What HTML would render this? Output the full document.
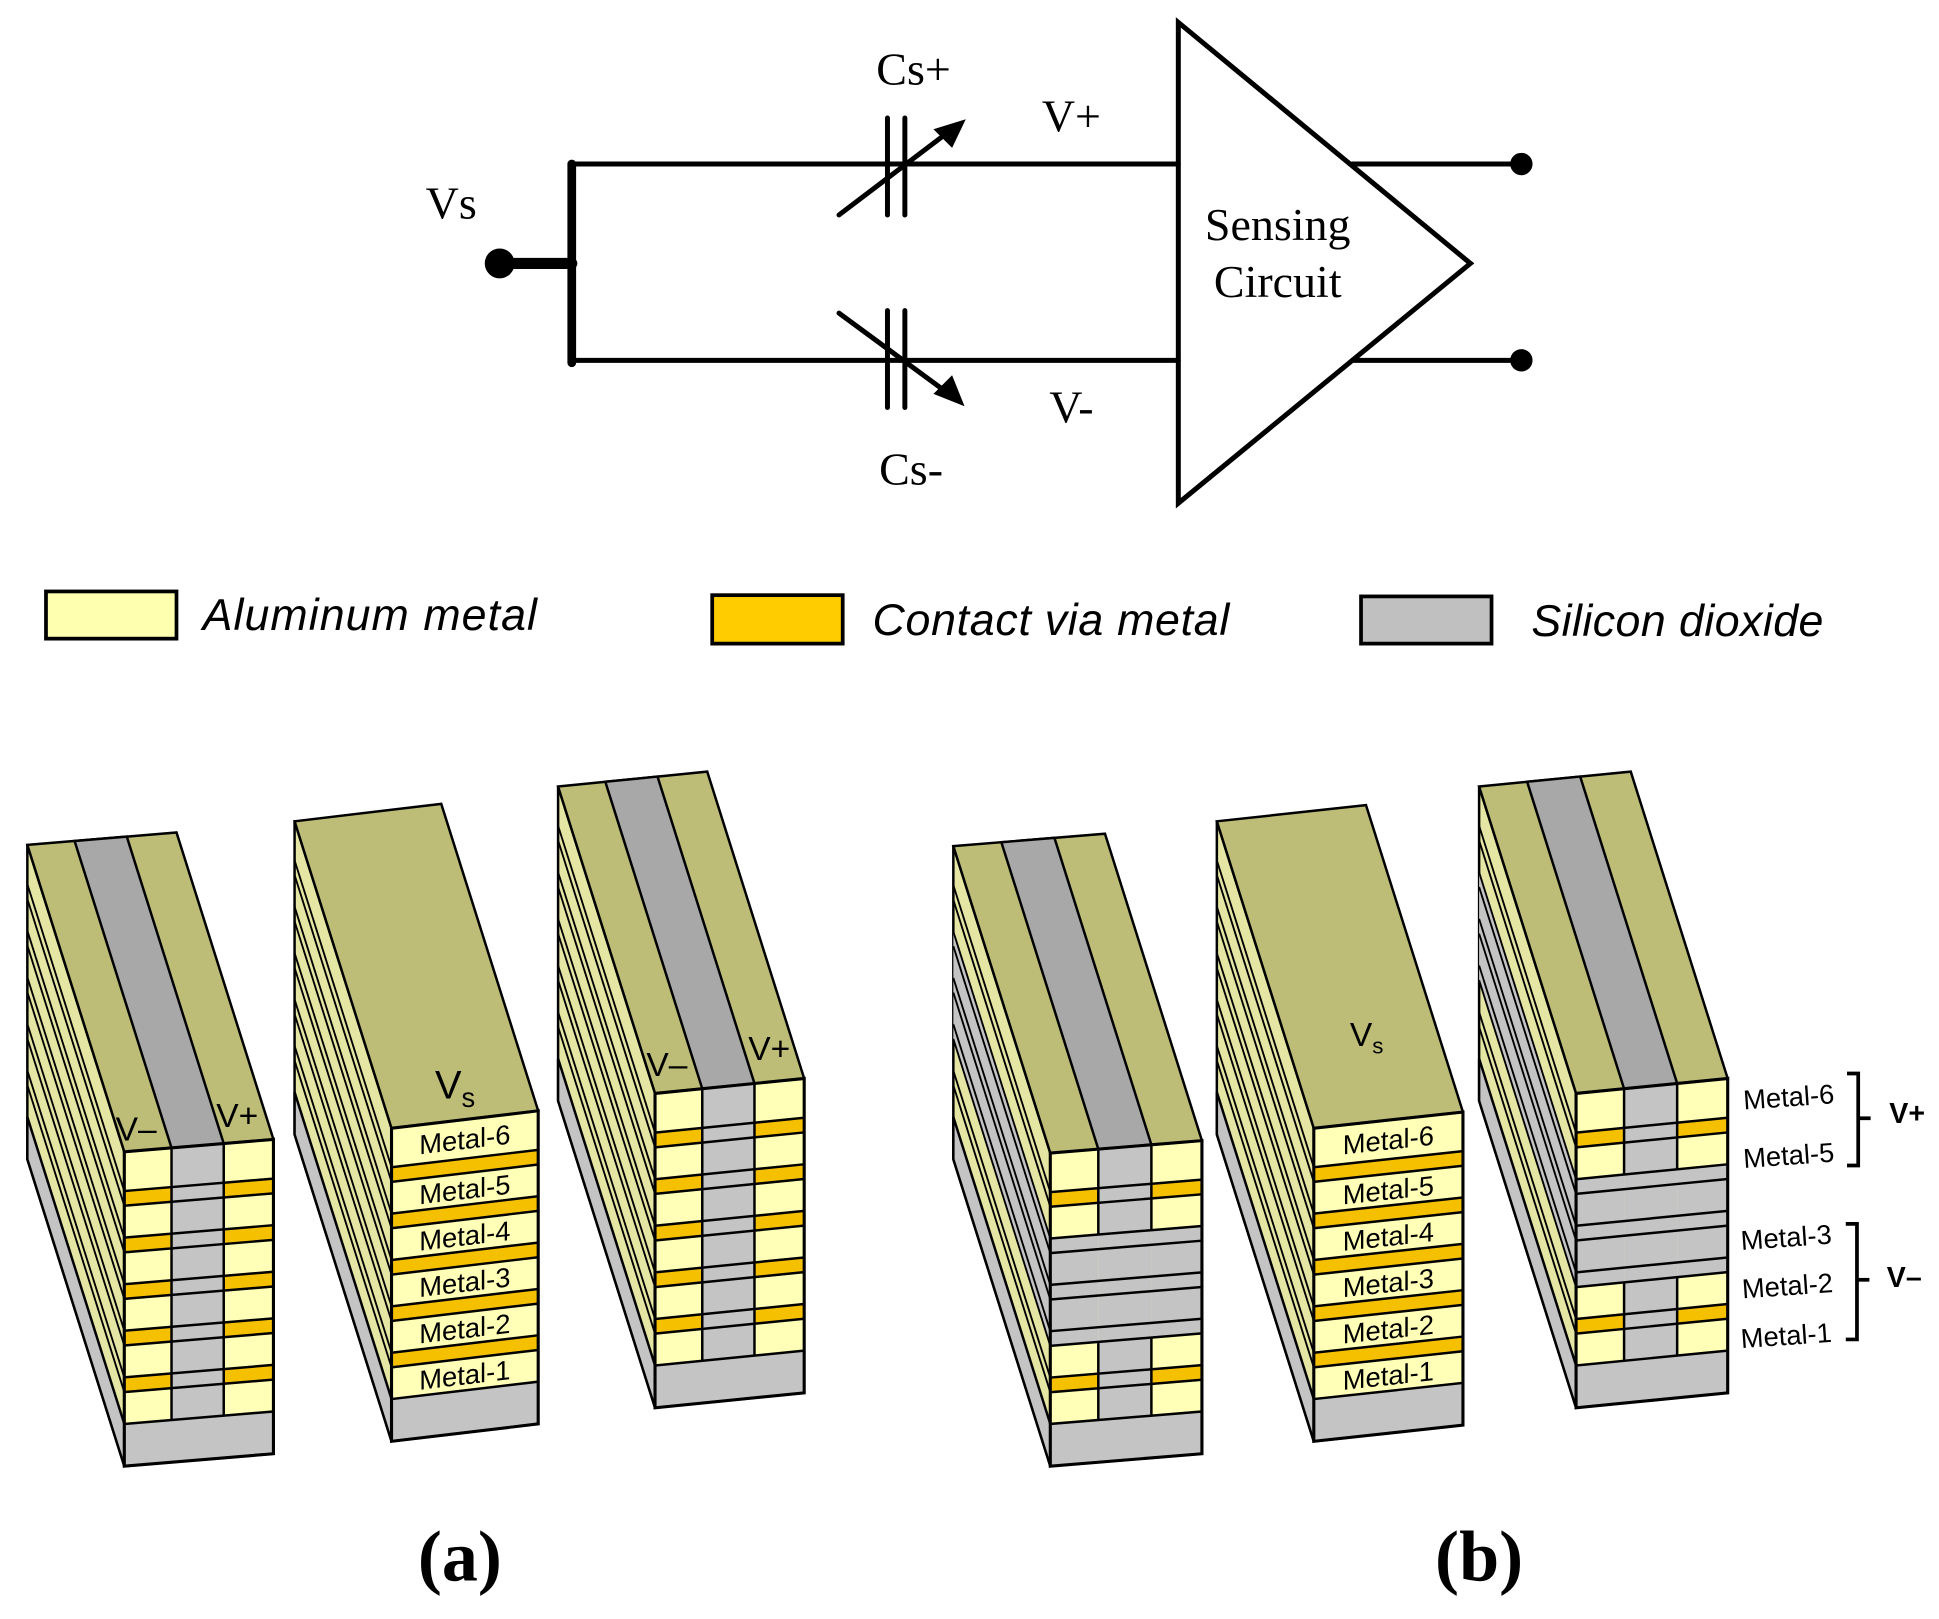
<!DOCTYPE html>
<html><head><meta charset="utf-8">
<style>html,body{margin:0;padding:0;background:#fff;}svg{display:block}</style>
</head><body>
<svg id="s" xmlns="http://www.w3.org/2000/svg" width="1939" height="1619" viewBox="0 0 1560 1303" preserveAspectRatio="none">
<g stroke="#000" fill="none" stroke-linecap="round">
<line x1="402" y1="212" x2="460" y2="212" stroke-width="9"/>
<line x1="460" y1="132" x2="460" y2="292" stroke-width="7"/>
<line x1="460" y1="132" x2="948" y2="132" stroke-width="4"/>
<line x1="460" y1="290" x2="948" y2="290" stroke-width="4"/>
<line x1="714" y1="95" x2="714" y2="173" stroke-width="4"/>
<line x1="728" y1="95" x2="728" y2="173" stroke-width="4"/>
<line x1="714" y1="250" x2="714" y2="328" stroke-width="4"/>
<line x1="728" y1="250" x2="728" y2="328" stroke-width="4"/>
<line x1="675" y1="173" x2="762" y2="107" stroke-width="4"/>
<line x1="675" y1="252" x2="762" y2="316" stroke-width="4"/>
<polygon points="948,18 1183,212 948,405" stroke-width="4" stroke-linejoin="miter"/>
<line x1="1088" y1="132" x2="1224" y2="132" stroke-width="4"/>
<line x1="1088" y1="290" x2="1224" y2="290" stroke-width="4"/>
</g>
<polygon points="777,96 751,104 766,119" fill="#000"/>
<polygon points="776,327 766,302 751,317" fill="#000"/>
<circle cx="402" cy="212" r="12" fill="#000"/>
<circle cx="1224" cy="132" r="9" fill="#000"/>
<circle cx="1224" cy="290" r="9" fill="#000"/>
<g font-family="Liberation Serif, serif" font-size="37" fill="#000" text-anchor="middle">
<text x="735" y="68">Cs+</text><text x="862" y="106">V+</text>
<text x="862" y="340">V-</text><text x="733" y="390">Cs-</text>
<text x="363" y="176">Vs</text>
<text x="1028" y="193">Sensing</text><text x="1028" y="239">Circuit</text>
<text x="370" y="1272" font-size="58" font-weight="bold">(a)</text>
<text x="1190" y="1272" font-size="58" font-weight="bold">(b)</text>
</g>
<g stroke="#000" stroke-width="3">
<rect x="37" y="476" width="105" height="38" fill="#ffffb0"/>
<rect x="573" y="479" width="105" height="39" fill="#ffcc00"/>
<rect x="1095" y="480" width="105" height="38" fill="#c0c0c0"/>
</g>
<g font-family="Liberation Sans, sans-serif" font-size="36" font-style="italic" fill="#000">
<text x="163" y="507" textLength="269">Aluminum metal</text>
<text x="702" y="511" textLength="287">Contact via metal</text>
<text x="1232" y="512" textLength="235">Silicon dioxide</text>
</g>
<g id="blocks"></g>
<g font-family="Liberation Sans, sans-serif" font-size="22" fill="#000">
<text x="1403" y="893" transform="rotate(-4 1403 893)">Metal-6</text>
<text x="1403" y="940" transform="rotate(-4 1403 940)">Metal-5</text>
<text x="1401" y="1006" transform="rotate(-4 1401 1006)">Metal-3</text>
<text x="1402" y="1045" transform="rotate(-4 1402 1045)">Metal-2</text>
<text x="1401" y="1085" transform="rotate(-4 1401 1085)">Metal-1</text>
<text x="1520" y="904" font-size="23" font-weight="bold">V+</text>
<text x="1518" y="1036" font-size="23" font-weight="bold">V–</text>
</g>
<g stroke="#000" stroke-width="3" fill="none">
<polyline points="1486,864 1495,864 1495,938 1486,938"/>
<line x1="1495" y1="900" x2="1505" y2="900"/>
<polyline points="1485,985 1494,985 1494,1078 1485,1078"/>
<line x1="1494" y1="1030" x2="1504" y2="1030"/>
</g>
</svg>
<script>
(function(){
var out='';
var Y='#ffffb8',O='#f5c000',G='#c4c4c4',OL='#bdbd78',SD='#e6e6a4',TG='#a8a8a8';
function block(o){
 var fl=o.fl,fr=o.fr,ft=o.ft,fb=o.fb,t=o.tilt,bx=-78,by=-247;
 var W=fr-fl,H=fb-ft,slab=34,LH=H-slab;
 var base=[['M',32],['V',12],['M',26],['V',12],['M',26],['V',12],['M',26],['V',12],['M',26],['V',12],['M',26]];
 var k=LH/222,ys=[],y=0;
 base.forEach(function(l,i){ys.push([l[0],y,l[1]*k,i]);y+=l[1]*k;});
 var BLx=fl+bx,BLy=ft+by;
 out+='<polygon points="'+BLx+','+BLy+' '+fl+','+ft+' '+fl+','+fb+' '+BLx+','+(BLy+H)+'" fill="'+SD+'" stroke="#000" stroke-width="2"/>';
 ys.forEach(function(l){
  var grey=o.b&&(l[3]>=3&&l[3]<=7);
  if(grey) out+='<polygon points="'+BLx+','+(BLy+l[1])+' '+fl+','+(ft+l[1])+' '+fl+','+(ft+l[1]+l[2])+' '+BLx+','+(BLy+l[1]+l[2])+'" fill="'+G+'"/>';
  out+='<line x1="'+BLx+'" y1="'+(BLy+l[1])+'" x2="'+fl+'" y2="'+(ft+l[1])+'" stroke="#000" stroke-width="1.5"/>';
 });
 out+='<polygon points="'+BLx+','+(BLy+LH)+' '+fl+','+(ft+LH)+' '+fl+','+fb+' '+BLx+','+(BLy+H)+'" fill="'+G+'" stroke="#000" stroke-width="2"/>';
 var BRx=fr+bx,BRy=ft-t+by;
 out+='<polygon points="'+BLx+','+BLy+' '+BRx+','+BRy+' '+fr+','+(ft-t)+' '+fl+','+ft+'" fill="'+OL+'" stroke="#000" stroke-width="2"/>';
 var c1=38/120,c2=80/120;
 function lerp(ax,ay,cx,cy,f){return [ax+(cx-ax)*f,ay+(cy-ay)*f];}
 if(o.three){
  var b1=lerp(BLx,BLy,BRx,BRy,c1),b2=lerp(BLx,BLy,BRx,BRy,c2),f1=lerp(fl,ft,fr,ft-t,c1),f2=lerp(fl,ft,fr,ft-t,c2);
  out+='<polygon points="'+b1+' '+b2+' '+f2+' '+f1+'" fill="'+TG+'" stroke="#000" stroke-width="2"/>';
 }
 var a=Math.atan(t/W)*180/Math.PI;
 var g='<g transform="translate('+fl+','+ft+') skewY('+(-a)+')">';
 g+='<rect x="0" y="0" width="'+W+'" height="'+H+'" fill="'+Y+'"/>';
 var cols=o.three?[[0,W*c1,1],[W*c1,W*c2,0],[W*c2,W,1]]:[[0,W,1]];
 ys.forEach(function(l){
  var grey=o.b&&(l[3]>=3&&l[3]<=7);
  cols.forEach(function(c){
   var f=(!c[2]||grey)?G:(l[0]=='V'?O:Y);
   g+='<rect x="'+c[0]+'" y="'+l[1]+'" width="'+(c[1]-c[0])+'" height="'+l[2]+'" fill="'+f+'"/>';
  });
  g+='<line x1="0" y1="'+l[1]+'" x2="'+W+'" y2="'+l[1]+'" stroke="#000" stroke-width="2"/>';
  if(!o.three&&l[0]=='M'){
   var n=6-l[3]/2;
   g+='<text x="'+(W/2)+'" y="'+(l[1]+l[2]/2+8)+'" text-anchor="middle" font-family="Liberation Sans, sans-serif" font-size="22" fill="#000">Metal-'+n+'</text>';
  }
 });
 if(o.three){
  [W*c1,W*c2].forEach(function(x){
   if(o.b){g+='<line x1="'+x+'" y1="0" x2="'+x+'" y2="'+ys[3][1]+'" stroke="#000" stroke-width="2"/><line x1="'+x+'" y1="'+(ys[7][1]+ys[7][2])+'" x2="'+x+'" y2="'+LH+'" stroke="#000" stroke-width="2"/>';}
   else g+='<line x1="'+x+'" y1="0" x2="'+x+'" y2="'+LH+'" stroke="#000" stroke-width="2"/>';
  });
 }
 g+='<rect x="0" y="'+LH+'" width="'+W+'" height="'+slab+'" fill="'+G+'" stroke="#000" stroke-width="2"/>';
 g+='<rect x="0" y="0" width="'+W+'" height="'+H+'" fill="none" stroke="#000" stroke-width="2.5"/>';
 g+='</g>';
 out+=g;
 if(o.lab) out+=o.lab;
}
var F='font-family="Liberation Sans, sans-serif" fill="#000"';
block({fl:100,fr:220,ft:927,fb:1180,tilt:10,three:1,lab:'<text x="93" y="918" '+F+' font-size="27">V–</text><text x="174" y="907" '+F+' font-size="27">V+</text>'});
block({fl:315,fr:433,ft:908,fb:1160,tilt:14,lab:'<text x="350" y="884" '+F+' font-size="32">V<tspan font-size="22" dy="7">s</tspan></text>'});
block({fl:527,fr:647,ft:880,fb:1133,tilt:12,three:1,lab:'<text x="520" y="866" '+F+' font-size="27">V–</text><text x="602" y="853" '+F+' font-size="27">V+</text>'});
block({fl:845,fr:967,ft:928,fb:1180,tilt:10,three:1,b:1});
block({fl:1057,fr:1177,ft:908,fb:1160,tilt:13,lab:'<text x="1086" y="842" '+F+' font-size="27">V<tspan font-size="18" dy="6">s</tspan></text>'});
block({fl:1268,fr:1390,ft:880,fb:1133,tilt:12,three:1,b:1});
document.getElementById('blocks').innerHTML=out;
})();
</script>
</body></html>
